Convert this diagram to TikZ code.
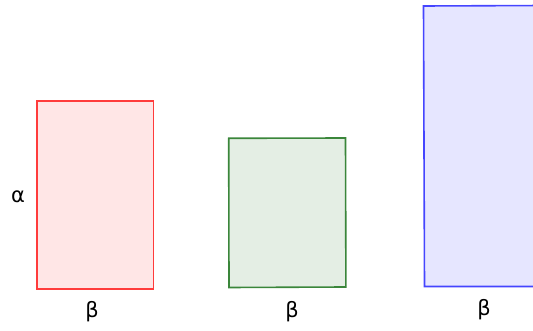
\documentclass[tikz,border=0pt]{standalone}
\usepackage{fontspec}
\setmainfont{DejaVu Sans}
\begin{document}
\begin{tikzpicture}[x=1pt,y=-1pt,
  box/.style={line width=1.6pt,line join=miter},
  lbl/.style={inner sep=0pt,font=\fontsize{21}{25}\selectfont}]
\definecolor{redline}{HTML}{FF3B3B}
\definecolor{redfill}{HTML}{FFE6E6}
\definecolor{greenline}{HTML}{3A863A}
\definecolor{greenfill}{HTML}{E4EEE4}
\definecolor{blueline}{HTML}{4545FF}
\definecolor{bluefill}{HTML}{E6E6FF}
\useasboundingbox (0,0) rectangle (533,331);
\clip (0,0) rectangle (533,331);
% three bars
\draw[box,draw=redline,fill=redfill] (37,101) rectangle (153.5,289);
\draw[box,draw=greenline,fill=greenfill] (228.7,138.3) -- (345.5,138) -- (345.9,287) -- (229,287.5) -- cycle;
\draw[box,draw=blueline,fill=bluefill] (423.5,6) -- (545,5.5) -- (545,286.5) -- (424.5,286.5) -- cycle;
% labels
\node[lbl] (alpha) at (18,197) {α};
\node[lbl] (beta1) at (92,312) {β};
\node[lbl] (beta2) at (292,312) {β};
\node[lbl] (beta3) at (484,310) {β};
\end{tikzpicture}
\end{document}
